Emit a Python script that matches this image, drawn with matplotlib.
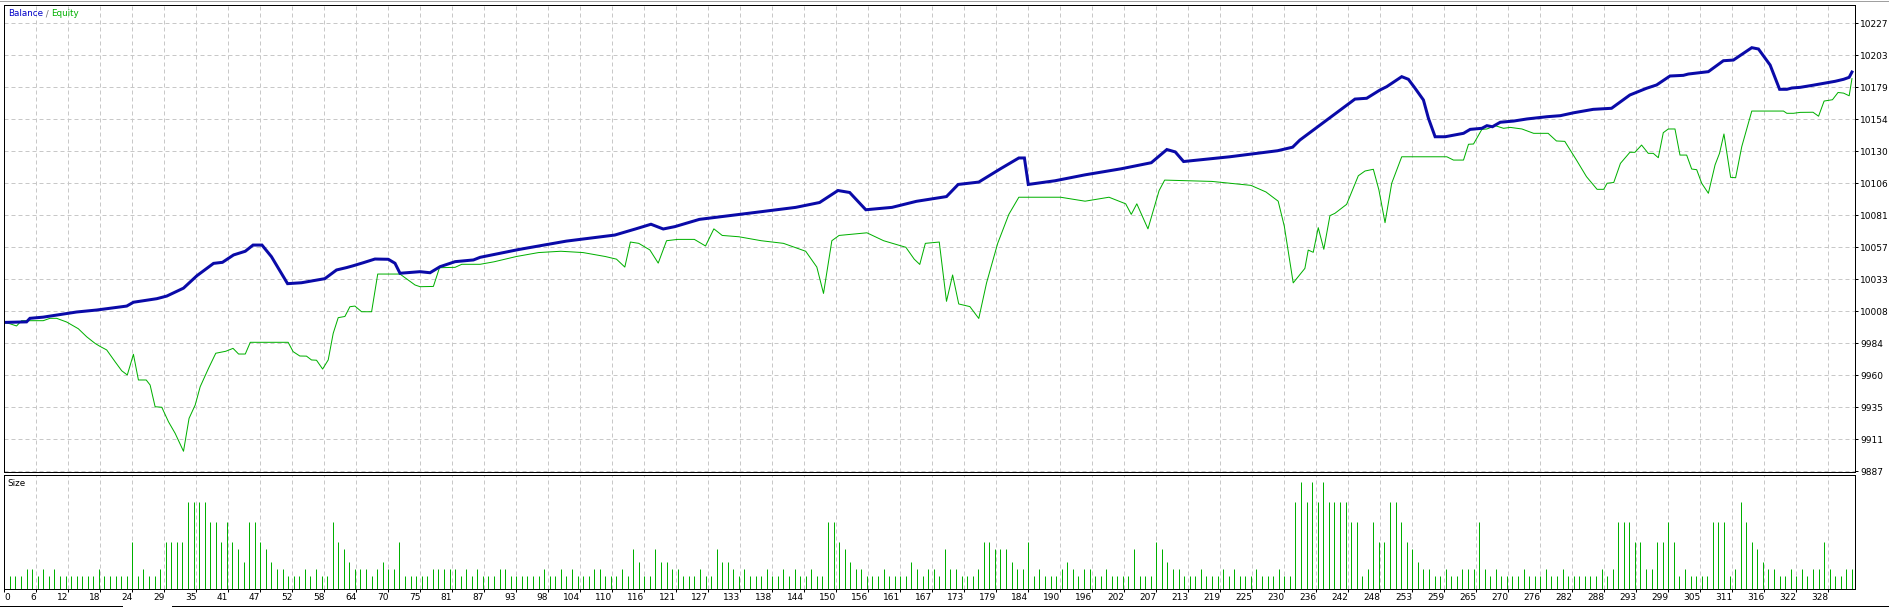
import matplotlib
matplotlib.use('Agg')
import matplotlib.pyplot as plt
from matplotlib.lines import Line2D

# --- data ----------------------------------------------------------------

# balance curve vertices (trade number, account value)
balance_x = [0, 4, 4.6, 7, 13, 16.6, 22, 23.2, 27.4, 29.2, 32.2, 34.6, 37.6, 39.2, 41.2, 43.3,
             44.7, 46.3, 48, 50.9, 53.4, 57.6, 59.7, 61.5, 62.7, 64.5, 66.6, 69, 70.2, 71.1,
             74.7, 76.5, 78.3, 81, 84.3, 85.5, 92.4, 101, 109.7, 113.4, 116.2, 118.4, 120.5,
             124.9, 133.5, 142.2, 146.5, 149.8, 151.9, 154.8, 159.5, 163.9, 169.3, 171.4,
             175.1, 179, 182.3, 183.3, 184, 188.8, 194.2, 200.7, 206.1, 208.9, 210.4, 211.9,
             220.2, 228.8, 231.5, 232.8, 242.7, 244.8, 247.2, 248.4, 251.1, 252.3, 253.5, 255,
             255.9, 257.1, 258.9, 262.2, 263.4, 265.5, 266.4, 267.4, 268.8, 271.2, 273.6,
             277.2, 279.6, 282, 285.5, 288.8, 292.1, 295.1, 296.9, 299.3, 301.7, 302.6, 306.2,
             308.9, 310.7, 314, 315.2, 317.3, 319, 320.3, 321.2, 322.7, 325, 327, 329, 330.5,
             331.5, 332]
balance_y = [10000, 10000.4, 10003.1, 10004, 10007.9, 10009.4, 10012.4, 10015.3, 10018, 10020,
             10026, 10035.4, 10044.8, 10045.6, 10051.2, 10054, 10058.7, 10058.7, 10049.9,
             10029.4, 10030.1, 10033.2, 10039.8, 10041.6, 10043, 10045.3, 10048.1, 10047.9,
             10044.9, 10037.3, 10038.5, 10037.7, 10042.3, 10046.1, 10047.4, 10049.4, 10055.3,
             10061.7, 10066.3, 10070.9, 10074.5, 10070.9, 10072.7, 10078.2, 10082.7, 10087.3,
             10091, 10100.1, 10098.6, 10085.5, 10087.3, 10091.9, 10095.5, 10104.7, 10106.5,
             10116.6, 10124.8, 10124.8, 10104.7, 10107.5, 10112, 10116.6, 10121.2, 10131.2,
             10129.4, 10122.1, 10125.7, 10130.3, 10133, 10138.4, 10169.5, 10170.1, 10176.4,
             10178.9, 10186.5, 10184.5, 10177.7, 10168.8, 10154.9, 10140.9, 10140.9, 10143.5,
             10146.5, 10147.3, 10149.3, 10148.5, 10151.9, 10152.8, 10154.4, 10156.1, 10156.9,
             10159.1, 10161.7, 10162.5, 10172.6, 10177.7, 10180.2, 10187, 10187.5, 10188.5,
             10190.3, 10198.6, 10199.1, 10208.5, 10207.5, 10195.3, 10176.9, 10176.9, 10177.9,
             10178.4, 10180, 10181.5, 10183, 10184.5, 10186, 10190]

# equity curve vertices
equity_x = [0, 1, 2.2, 3.1, 7, 8.2, 9.4, 11.2, 13.3, 14.8, 16.3, 17.2, 18.4, 19.9, 21.1, 22.1,
            23.2, 24.1, 25.5, 26.2, 27.1, 28.3, 29.5, 30.7, 32.2, 33.2, 34.3, 35.2, 36.7, 38,
            39.8, 41.1, 42.1, 43.3, 44.2, 51, 51.9, 53.1, 54.3, 55.2, 56.1, 57.2, 58.2, 59.1,
            60, 61.2, 62.1, 63, 64.2, 66, 67.1, 71.1, 73.8, 74.7, 77.1, 78.2, 81, 82.2, 85.5,
            88, 92, 96, 100, 104, 108, 110, 111.5, 112.5, 114, 116, 117.5, 119, 121, 124, 126,
            127.5, 129, 132, 136, 140, 144, 146, 147.2, 148.7, 150, 155, 158, 162, 163.5,
            164.5, 165.5, 168, 169.3, 170.4, 171.5, 173.5, 175.1, 176.5, 178.5, 180.5, 182.3,
            189.8, 194.2, 198.5, 201.5, 202.5, 203.5, 205.5, 207.5, 208.5, 217, 224, 226.7,
            228.9, 230, 231.6, 233.7, 234.3, 235.2, 236.1, 237.1, 238.2, 239.1, 241.2, 243.3,
            244.5, 246, 247, 248.1, 249.3, 251.1, 259.2, 260.4, 262.2, 263.1, 264, 265.5,
            266.4, 267.9, 269.4, 270.6, 272.7, 274.8, 277.4, 278.9, 280.4, 282.5, 284.3,
            286.2, 287.4, 288, 289.2, 290.4, 292.1, 293, 294.2, 295.4, 296.3, 297.2, 298.1,
            299, 300.2, 301.1, 302.3, 303.2, 304.1, 305, 306.2, 307.4, 308.2, 309, 310.2,
            311.1, 312.2, 314, 319.7, 320.3, 321.5, 322.7, 325, 326, 327, 328.5, 329.5,
            330.5, 331.5, 332]
equity_y = [10000, 9999, 9997.3, 10001.3, 10001.3, 10003.1, 10003.1, 10000.3, 9995.2, 9989.1,
            9984.1, 9981.8, 9979.1, 9970.2, 9963.3, 9960.1, 9975.8, 9956.3, 9956.3, 9952.5,
            9936, 9935.6, 9924.6, 9915.8, 9902.2, 9927.2, 9937.3, 9951.2, 9965.2, 9976.6,
            9978.1, 9980.3, 9976, 9976, 9984.9, 9984.9, 9977.8, 9974.5, 9974.4, 9971.5,
            9971.3, 9964.6, 9971.5, 9991.7, 10003.6, 10004.5, 10011.9, 10012.4, 10008.1,
            10008.1, 10036.7, 10036.7, 10028.4, 10027.1, 10027.3, 10041.5, 10041.8, 10044.1,
            10044.1, 10046, 10050, 10053, 10054, 10053, 10050, 10048, 10042, 10061, 10060,
            10055, 10045, 10062, 10063, 10063, 10058, 10071, 10066, 10065, 10062, 10060,
            10054, 10042, 10022, 10062, 10066, 10068, 10062, 10057, 10048, 10044, 10060,
            10061, 10016, 10036, 10014, 10012, 10003, 10030, 10060, 10082, 10095, 10095,
            10092, 10095, 10090, 10082, 10090, 10071, 10100, 10108, 10107, 10104, 10099,
            10092, 10073, 10030, 10041, 10054.9, 10053.2, 10071.9, 10055.5, 10081, 10082.8,
            10089.6, 10111.3, 10114.9, 10116.2, 10100.5, 10075.7, 10105.6, 10125.7, 10125.7,
            10123.2, 10123.2, 10135.2, 10135.4, 10146.5, 10146.8, 10149.3, 10147.3, 10148,
            10146.8, 10143.5, 10143.5, 10137.7, 10137.4, 10123.2, 10110.6, 10101, 10101,
            10105.6, 10106.2, 10120.7, 10129.1, 10129.1, 10134.6, 10128.3, 10128.3, 10125,
            10144, 10146.8, 10146.8, 10127, 10127, 10116.4, 10115.9, 10105.6, 10098, 10119.5,
            10128.3, 10143, 10110.1, 10109.8, 10133.4, 10160.4, 10160.4, 10158.7, 10158.7,
            10159.4, 10159.5, 10156.5, 10168, 10169, 10174.5, 10174, 10172, 10185]

# lot size of trades 1..332
size_lots = [
    0.02, 0.02, 0.02, 0.03, 0.03, 0.02, 0.03, 0.02, 0.03, 0.02,
    0.02, 0.02, 0.02, 0.02, 0.02, 0.02, 0.03, 0.02, 0.02, 0.02,
    0.02, 0.02, 0.07, 0.02, 0.03, 0.02, 0.02, 0.03, 0.07, 0.07,
    0.07, 0.07, 0.13, 0.13, 0.13, 0.13, 0.10, 0.10, 0.07, 0.10,
    0.07, 0.06, 0.04, 0.10, 0.10, 0.07, 0.06, 0.04, 0.03, 0.03,
    0.02, 0.02, 0.02, 0.03, 0.02, 0.03, 0.02, 0.02, 0.10, 0.07,
    0.06, 0.04, 0.03, 0.03, 0.03, 0.02, 0.03, 0.04, 0.03, 0.03,
    0.07, 0.02, 0.02, 0.02, 0.02, 0.02, 0.03, 0.03, 0.03, 0.03,
    0.03, 0.02, 0.03, 0.02, 0.03, 0.02, 0.02, 0.02, 0.03, 0.03,
    0.02, 0.02, 0.02, 0.02, 0.02, 0.02, 0.03, 0.02, 0.02, 0.03,
    0.02, 0.03, 0.02, 0.02, 0.02, 0.03, 0.03, 0.02, 0.02, 0.02,
    0.03, 0.02, 0.06, 0.04, 0.02, 0.02, 0.06, 0.04, 0.04, 0.03,
    0.03, 0.02, 0.02, 0.02, 0.03, 0.02, 0.02, 0.06, 0.04, 0.04,
    0.03, 0.02, 0.03, 0.02, 0.02, 0.02, 0.03, 0.02, 0.02, 0.03,
    0.02, 0.03, 0.02, 0.02, 0.03, 0.02, 0.02, 0.10, 0.10, 0.07,
    0.06, 0.04, 0.03, 0.03, 0.02, 0.02, 0.02, 0.03, 0.02, 0.02,
    0.02, 0.02, 0.04, 0.03, 0.02, 0.03, 0.03, 0.02, 0.06, 0.03,
    0.03, 0.02, 0.02, 0.02, 0.03, 0.07, 0.07, 0.06, 0.06, 0.06,
    0.04, 0.03, 0.03, 0.07, 0.02, 0.03, 0.02, 0.02, 0.02, 0.03,
    0.04, 0.03, 0.02, 0.03, 0.03, 0.02, 0.02, 0.03, 0.02, 0.02,
    0.02, 0.02, 0.06, 0.02, 0.02, 0.02, 0.07, 0.06, 0.04, 0.03,
    0.03, 0.02, 0.02, 0.02, 0.03, 0.02, 0.02, 0.02, 0.03, 0.02,
    0.03, 0.02, 0.02, 0.02, 0.03, 0.02, 0.02, 0.02, 0.03, 0.02,
    0.02, 0.13, 0.16, 0.13, 0.16, 0.13, 0.16, 0.13, 0.13, 0.13,
    0.13, 0.10, 0.10, 0.02, 0.03, 0.10, 0.07, 0.07, 0.13, 0.13,
    0.10, 0.07, 0.06, 0.04, 0.03, 0.03, 0.02, 0.02, 0.03, 0.02,
    0.02, 0.03, 0.03, 0.03, 0.10, 0.03, 0.02, 0.03, 0.02, 0.02,
    0.02, 0.02, 0.03, 0.02, 0.02, 0.02, 0.03, 0.02, 0.02, 0.03,
    0.02, 0.02, 0.02, 0.02, 0.02, 0.02, 0.03, 0.02, 0.03, 0.10,
    0.10, 0.10, 0.07, 0.07, 0.03, 0.03, 0.07, 0.07, 0.10, 0.07,
    0.02, 0.03, 0.02, 0.02, 0.02, 0.02, 0.10, 0.10, 0.10, 0.02,
    0.03, 0.13, 0.10, 0.07, 0.06, 0.04, 0.03, 0.03, 0.02, 0.02,
    0.03, 0.02, 0.03, 0.02, 0.03, 0.03, 0.07, 0.03, 0.02, 0.02,
    0.03, 0.03]
size_trades = list(range(1, len(size_lots) + 1))

# axis labels as printed by the terminal
y_tick_labels = ['9887', '9911', '9935', '9960', '9984', '10008', '10033', '10057', '10081',
                 '10106', '10130', '10154', '10179', '10203', '10227']
x_tick_labels = ['0', '6', '12', '18', '24', '29', '35', '41', '47', '52', '58', '64', '70',
                 '75', '81', '87', '93', '98', '104', '110', '116', '121', '127', '133', '138',
                 '144', '150', '156', '161', '167', '173', '179', '184', '190', '196', '202',
                 '207', '213', '219', '225', '230', '236', '242', '248', '253', '259', '265',
                 '270', '276', '282', '288', '293', '299', '305', '311', '316', '322', '328']

# --- layout -----------------------------------------------------------------
W, H = 1890, 607
PX = 0.72  # one pixel in points at dpi 100
blue = '#0a0aa8'
green = '#00b000'
grid_color = '#c8c8c8'

plt.rcParams['font.family'] = 'DejaVu Sans'
plt.rcParams['font.size'] = 6.5

fig = plt.figure(figsize=(W / 100, H / 100), dpi=100)
fig.patch.set_facecolor('white')

left, right = 4.3, 1855.3
main_ax = fig.add_axes([left / W, 1 - 472.3 / H, (right - left) / W, (472.3 - 5) / H])
size_ax = fig.add_axes([left / W, 1 - 589 / H, (right - left) / W, (589 - 475) / H])

step = 5.75            # trades per grid cell (32 px)
x_max = (right - left) / (32 / step)
grid_x = [k * step for k in range(len(x_tick_labels))]
val_step = (10227 - 9887) / 14
grid_y = [9887 + k * val_step for k in range(len(y_tick_labels))]

# Balance / Equity panel
main_ax.plot(equity_x, equity_y, color=green, lw=1.0 * PX)
main_ax.plot(balance_x, balance_y, color=blue, lw=3.0 * PX, solid_joinstyle='miter')
main_ax.set_xlim(0, x_max)
main_ax.set_ylim(9887 - val_step / 32, 9887 + val_step * 466.3 / 32)
main_ax.set_xticks(grid_x)
main_ax.tick_params(axis='x', length=0, labelbottom=False)
main_ax.yaxis.tick_right()
main_ax.set_yticks(grid_y)
main_ax.set_yticklabels(y_tick_labels)
main_ax.tick_params(axis='y', length=3 * PX, width=PX, pad=1.2, colors='black')
main_ax.grid(True, color=grid_color, lw=PX, linestyle=(0, (4, 3)))
main_ax.set_axisbelow(True)

# Size panel
size_ax.vlines(size_trades, 0, size_lots, color=green, lw=1.0 * PX)
size_ax.set_xlim(0, x_max)
size_ax.set_ylim(0, 0.16 * 114 / 107)
size_ax.set_yticks([])
size_ax.set_xticks(grid_x)
size_ax.set_xticklabels(x_tick_labels)
size_ax.tick_params(axis='x', length=3 * PX, width=PX, pad=1.0)
for lab in size_ax.get_xticklabels():
    lab.set_horizontalalignment('left' if lab.get_text() == '0' else 'right')
size_ax.grid(True, axis='x', color=grid_color, lw=PX, linestyle=(0, (4, 3)))
size_ax.set_axisbelow(True)

for ax in (main_ax, size_ax):
    for sp in ax.spines.values():
        sp.set_color('black')
        sp.set_linewidth(PX)

# panel captions, pieces chained one after the other
t1 = fig.text(8 / W, 1 - 14 / H, 'Balance', color='#0000c8', va='center', ha='left',
              fontsize=6.3)
t2 = main_ax.annotate(' / ', xy=(1, 0.5), xycoords=t1, color='#707070', fontsize=6.3,
                      va='center', ha='left')
main_ax.annotate('Equity', xy=(1, 0.5), xycoords=t2, color='#00b000', fontsize=6.3,
                 va='center', ha='left')
fig.text(7 / W, 1 - 483 / H, 'Size', color='black', va='center', ha='left', fontsize=6.3)

# window frame lines
fig.add_artist(Line2D([0, 1], [1 - 0.7 / H, 1 - 0.7 / H], color='#a0a0a0', lw=PX))
fig.add_artist(Line2D([0, 122 / W], [1 - 605.5 / H, 1 - 605.5 / H], color='black', lw=PX))
fig.add_artist(Line2D([172 / W, 1], [1 - 605.5 / H, 1 - 605.5 / H], color='black', lw=PX))

fig.savefig('out.png', dpi=100, facecolor='white')
